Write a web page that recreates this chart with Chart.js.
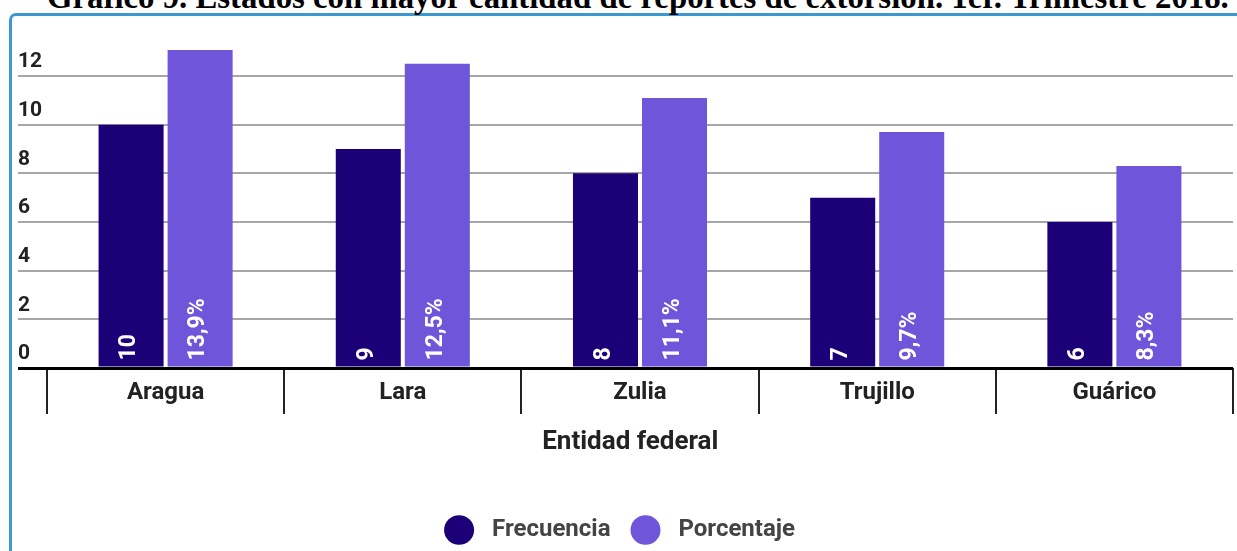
<!DOCTYPE html>
<html>
<head>
<meta charset="utf-8">
<script src="https://cdn.jsdelivr.net/npm/chart.js@4.4.1/dist/chart.umd.min.js"></script>
<style>
  html, body { margin: 0; padding: 0; background: #fff; overflow: hidden; }
  #wrap { position: relative; width: 1237px; height: 551px; overflow: hidden; }
  #frame {
    position: absolute; left: 9px; top: 13px; width: 1300px; height: 620px;
    border: 3px solid #3b98d1; border-radius: 7px; box-sizing: border-box;
  }
  #title {
    position: absolute; left: 47px; top: -21px; line-height: 1; white-space: nowrap;
    font: bold 32.8px 'Liberation Serif', 'Times New Roman', serif; color: #000;
  }
  #box { position: absolute; left: 0; top: 0; width: 1237px; height: 551px; }
</style>
</head>
<body>
<div id="wrap">
  <div id="frame"></div>
  <div id="title">Gráfico 9. Estados con mayor cantidad de reportes de extorsión. 1er. Trimestre 2018.</div>
  <div id="box"><canvas id="barChart"></canvas></div>
</div>
<script>
// Data
const categories = ['Aragua', 'Lara', 'Zulia', 'Trujillo', 'Guárico'];
const frecuencia = [10, 9, 8, 7, 6];
const porcentaje = [13.9, 12.5, 11.1, 9.7, 8.3];
const yTicks = [0, 2, 4, 6, 8, 10, 12];

const darkColor = '#1b0078';
const lightColor = '#6f55d9';
const boldFont = size => ({ family: 'Roboto', size: size, weight: 'bold' });

// White rotated value labels at the foot of each bar
const barLabels = {
    id: 'barLabels',
    afterDatasetsDraw(chart) {
        const ctx = chart.ctx;
        ctx.save();
        ctx.fillStyle = '#fff';
        ctx.font = 'bold 23px Roboto';
        ctx.textAlign = 'left';
        ctx.textBaseline = 'middle';
        chart.data.datasets.forEach((ds, i) => {
            chart.getDatasetMeta(i).data.forEach((bar, j) => {
                const v = ds.data[j];
                const text = i === 0 ? String(v) : v.toFixed(1).replace('.', ',') + '%';
                ctx.save();
                ctx.translate(bar.x - 1.5, bar.base - 6);
                ctx.rotate(-Math.PI / 2);
                ctx.fillText(text, 0, 0);
                ctx.restore();
            });
        });
        ctx.restore();
    }
};

const ctx = document.getElementById('barChart').getContext('2d');
const barChart = new Chart(ctx, {
    type: 'bar',
    data: {
        labels: categories,
        datasets: [{
            label: 'Frecuencia',
            data: frecuencia,
            backgroundColor: darkColor
        }, {
            label: 'Porcentaje',
            data: porcentaje,
            backgroundColor: lightColor
        }]
    },
    options: {
        responsive: true,
        maintainAspectRatio: false,
        animation: false,
        categoryPercentage: 0.582,
        barPercentage: 0.942,
        layout: { padding: { left: 18, right: 4, top: 50, bottom: -1 } },
        plugins: {
            tooltip: { enabled: false },
            legend: {
                position: 'bottom',
                labels: {
                    usePointStyle: true,
                    pointStyle: 'circle',
                    pointStyleWidth: 30,
                    boxHeight: 21,
                    padding: 20,
                    color: '#444',
                    font: boldFont(24),
                    generateLabels(chart) {
                        return chart.data.datasets.map((ds, i) => ({
                            text: ' ' + ds.label + (i === chart.data.datasets.length - 1 ? '  ' : ''),
                            fillStyle: ds.backgroundColor,
                            strokeStyle: ds.backgroundColor,
                            lineWidth: 0,
                            pointStyle: 'circle',
                            fontColor: '#444',
                            hidden: false,
                            datasetIndex: i
                        }));
                    }
                }
            }
        },
        scales: {
            x: {
                border: { display: false },
                grid: {
                    offset: true,
                    drawOnChartArea: false,
                    drawTicks: true,
                    tickLength: 46,
                    color: '#222',
                    lineWidth: 2
                },
                ticks: {
                    color: '#222',
                    font: boldFont(24),
                    padding: -35,
                    maxRotation: 0
                },
                title: {
                    display: true,
                    text: 'Entidad federal   ',
                    color: '#222',
                    font: boldFont(26),
                    padding: { top: 0, bottom: 40 }
                },
                afterFit(scale) { scale.height = 130; }
            },
            y: {
                min: 0,
                max: 13.07,
                border: { display: false },
                grid: {
                    drawTicks: true,
                    tickLength: 29,
                    color: c => c.tick && c.tick.value === 0 ? '#000' : '#a6a6a6',
                    lineWidth: c => c.tick && c.tick.value === 0 ? 3 : 2
                },
                ticks: {
                    color: '#222',
                    font: boldFont(21),
                    crossAlign: 'far',
                    labelOffset: -14,
                    includeBounds: false
                },
                afterBuildTicks(scale) {
                    scale.ticks = yTicks.map(v => ({ value: v }));
                },
                afterFit(scale) { scale.width = 29; }
            }
        }
    },
    plugins: [barLabels]
});
</script>
</body>
</html>
